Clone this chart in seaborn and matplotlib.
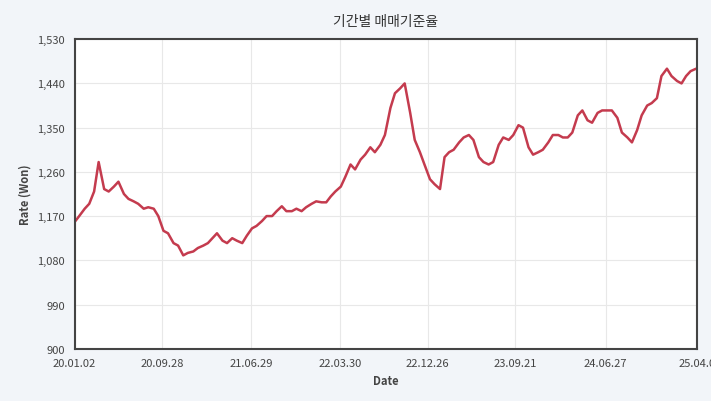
import matplotlib
matplotlib.use("Agg")
import matplotlib.pyplot as plt
import seaborn as sns
import pandas as pd
import matplotlib.dates as mdates

dates = pd.to_datetime([f"{y}-{m:02d}-{d:02d}" for y in range(2020, 2026) for m in range(1, 13) for d in (2, 16)][:127])
rates = [1158,1170,1185,1195,1220,1280,1225,1220,1230,1240,1215,1205,1200,1195,1185,1188,1185,1170,1140,1135,1115,1110,1090,1095,
         1098,1105,1110,1115,1125,1135,1120,1115,1125,1120,1115,1130,1145,1150,1160,1170,1170,1180,1190,1180,1180,1185,1180,1188,
         1195,1200,1198,1198,1210,1220,1230,1250,1275,1265,1285,1295,1310,1300,1315,1335,1390,1420,1430,1440,1380,1325,1300,1275,
         1245,1235,1225,1290,1300,1305,1320,1330,1335,1325,1290,1280,1275,1280,1315,1330,1325,1335,1355,1350,1310,1295,1300,1305,
         1320,1335,1335,1330,1330,1340,1375,1385,1365,1360,1380,1385,1385,1385,1370,1340,1330,1320,1345,1375,1395,1400,1410,1455,
         1470,1455,1445,1440,1455,1465,1470]
tick_labels = ["20.01.02","20.09.28","21.06.29","22.03.30","22.12.26","23.09.21","24.06.27","25.04.0"]
tick_dates = pd.to_datetime(["2020-01-02","2020-09-28","2021-06-29","2022-03-30","2022-12-26","2023-09-21","2024-06-27","2025-04-04"])
yticks = list(range(900, 1531, 90))

df = pd.DataFrame({"date": dates[:len(rates)], "rate": rates})
sns.set_style("white")
plt.rcParams['font.family'] = ['Noto Sans CJK KR', 'DejaVu Sans']
fig = plt.figure(figsize=(7.11, 4.02), dpi=100, facecolor="#f2f5f9")
ax = fig.add_axes([0.105, 0.13, 0.875, 0.77])
ax.set_facecolor("white")
sns.lineplot(data=df, x="date", y="rate", ax=ax, color="#c43b4e", linewidth=1.8)
ax.set_xlim(tick_dates[0], tick_dates[-1])
ax.set_ylim(900, 1530)
ax.set_yticks(yticks)
ax.set_yticklabels([f"{v:,}" for v in yticks], fontsize=8, color="#444")
ax.set_xticks(tick_dates)
ax.set_xticklabels(tick_labels, fontsize=8, color="#444")
ax.grid(True, color="#e8e8e8", linewidth=0.8)
for s in ax.spines.values():
    s.set_color("#444"); s.set_linewidth(1.5)
ax.set_xlabel("Date", fontsize=8, fontweight="bold", color="#444")
ax.set_ylabel("Rate (Won)", fontsize=8, fontweight="bold", color="#444")
ax.set_title("기간별 매매기준율", fontsize=10, color="#333", pad=10)
fig.savefig("out.png", dpi=100, facecolor=fig.get_facecolor())
